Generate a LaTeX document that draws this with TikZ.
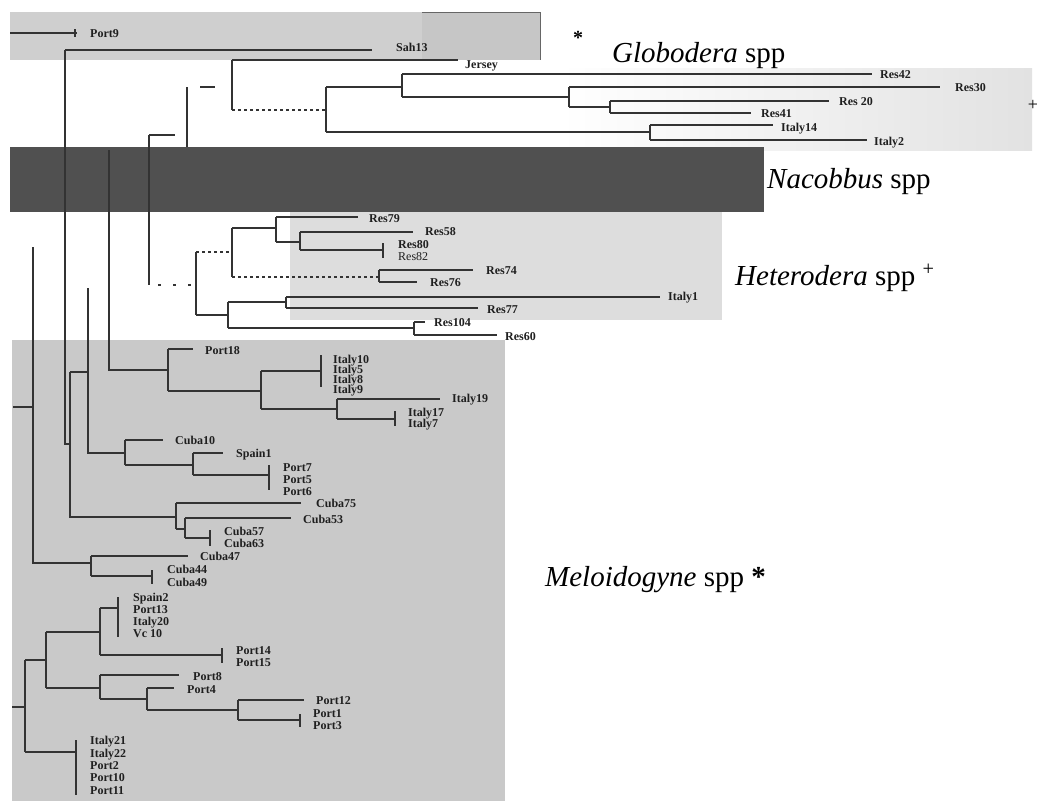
\documentclass[tikz,border=0pt]{standalone}
\usepackage{fontspec}
\setmainfont{Liberation Serif}
\definecolor{topbg}{HTML}{CFCFCF}
\definecolor{topbg2}{HTML}{C6C6C6}
\definecolor{globbg}{HTML}{E2E2E2}
\definecolor{nacbg}{HTML}{505050}
\definecolor{hetbg}{HTML}{DDDDDD}
\definecolor{melbg}{HTML}{C9C9C9}
\definecolor{treec}{HTML}{333333}
\tikzset{
  br/.style={draw=treec, line width=1.1pt},
  lab/.style={anchor=base west, inner sep=0pt, text=black!88,
    font=\bfseries\fontsize{12}{12}\selectfont},
  big/.style={anchor=base west, inner sep=0pt, text=black,
    font=\fontsize{29}{29}\selectfont},
}
\newcommand\lbl[4]{\node[lab] (#1) at (#2,#3+4) {#4};}
\begin{document}
\begin{tikzpicture}[x=1pt,y=-1pt]
\useasboundingbox (0,0) rectangle (1041,801);
\fill[white] (0,0) rectangle (1041,801);
% backgrounds
\fill[topbg] (10,12) rectangle (540,60);
\fill[topbg2] (422,12) rectangle (540,60);
\draw[gray!80!black, line width=0.7pt] (422,12) -- (540,12) -- (540,60);
\shade[left color=white, right color=globbg] (560,68) rectangle (1032,150);
\fill[nacbg] (10,147) rectangle (764,212);
\fill[hetbg] (290,212) rectangle (722,320);
\fill[melbg] (12,340) rectangle (505,801);
% ---- top / spine
\draw[br] (10,33) -- (77,33);
\draw[br] (75,29) -- (75,37);
\draw[br] (65,50) -- (372,50);
\draw[br] (65,50) -- (65,444) -- (70,444);
\draw[br] (70,372) -- (70,517) -- (176,517);
\draw[br] (70,372) -- (88,372);
\draw[br] (88,288) -- (88,453) -- (125,453);
\draw[br] (109,150) -- (109,370) -- (168,370);
\draw[br] (149,135) -- (149,285);
\draw[br] (149,135) -- (175,135);
\draw[br, dash pattern=on 3pt off 12pt] (158,285) -- (196,285);
\draw[br] (187,87) -- (187,147);
\draw[br] (200,87) -- (215,87);
\draw[br] (33,247) -- (33,563) -- (91,563);
\draw[br] (13,407) -- (33,407);
\draw[br] (25,660) -- (25,752);
\draw[br] (12,707) -- (25,707);
% ---- Globodera subtree
\draw[br] (232,60) -- (458,60);
\draw[br] (232,60) -- (232,110);
\draw[br, dashed] (232,110) -- (326,110);
\draw[br] (326,87) -- (326,132);
\draw[br] (326,87) -- (402,87);
\draw[br] (402,74) -- (402,97);
\draw[br] (402,74) -- (872,74);
\draw[br] (402,97) -- (569,97);
\draw[br] (569,87) -- (569,107);
\draw[br] (569,87) -- (940,87);
\draw[br] (569,107) -- (610,107);
\draw[br] (610,101) -- (610,113);
\draw[br] (610,101) -- (829,101);
\draw[br] (610,113) -- (751,113);
\draw[br] (326,132) -- (650,132);
\draw[br] (650,125) -- (650,140);
\draw[br] (650,125) -- (773,125);
\draw[br] (650,140) -- (867,140);
% ---- Heterodera subtree
\draw[br] (196,252) -- (196,315);
\draw[br, dashed] (196,252) -- (232,252);
\draw[br] (232,228) -- (232,277);
\draw[br] (232,228) -- (276,228);
\draw[br] (276,217) -- (276,242);
\draw[br] (276,217) -- (358,217);
\draw[br] (276,242) -- (300,242);
\draw[br] (300,232) -- (300,250);
\draw[br] (300,232) -- (413,232);
\draw[br] (300,250) -- (383,250);
\draw[br] (383,243) -- (383,258);
\draw[br, dashed] (232,277) -- (379,277);
\draw[br] (379,270) -- (379,282);
\draw[br] (379,270) -- (473,270);
\draw[br] (379,282) -- (417,282);
\draw[br] (196,315) -- (228,315);
\draw[br] (228,302) -- (228,328);
\draw[br] (228,302) -- (286,302);
\draw[br] (286,297) -- (286,308);
\draw[br] (286,297) -- (660,297);
\draw[br] (286,308) -- (478,308);
\draw[br] (228,328) -- (414,328);
\draw[br] (414,322) -- (414,335);
\draw[br] (414,322) -- (425,322);
\draw[br] (414,335) -- (497,335);
% ---- Meloidogyne subtree
\draw[br] (168,349) -- (168,391);
\draw[br] (168,349) -- (193,349);
\draw[br] (168,391) -- (261,391);
\draw[br] (261,371) -- (261,409);
\draw[br] (261,371) -- (321,371);
\draw[br] (321,355) -- (321,387);
\draw[br] (261,409) -- (337,409);
\draw[br] (337,399) -- (337,419);
\draw[br] (337,399) -- (440,399);
\draw[br] (337,419) -- (395,419);
\draw[br] (395,411) -- (395,426);
\draw[br] (125,440) -- (125,465);
\draw[br] (125,440) -- (163,440);
\draw[br] (125,465) -- (193,465);
\draw[br] (193,453) -- (193,475);
\draw[br] (193,453) -- (223,453);
\draw[br] (193,475) -- (269,475);
\draw[br] (269,465) -- (269,490);
\draw[br] (176,503) -- (176,529);
\draw[br] (176,503) -- (301,503);
\draw[br] (176,529) -- (185,529);
\draw[br] (185,518) -- (185,538);
\draw[br] (185,518) -- (291,518);
\draw[br] (185,538) -- (210,538);
\draw[br] (210,530) -- (210,546);
\draw[br] (91,556) -- (91,576);
\draw[br] (91,556) -- (188,556);
\draw[br] (91,576) -- (152,576);
\draw[br] (152,570) -- (152,584);
\draw[br] (25,660) -- (46,660);
\draw[br] (46,632) -- (46,688);
\draw[br] (46,632) -- (100,632);
\draw[br] (100,608) -- (100,655);
\draw[br] (100,608) -- (118,608);
\draw[br] (118,597) -- (118,637);
\draw[br] (100,655) -- (222,655);
\draw[br] (222,648) -- (222,663);
\draw[br] (46,688) -- (100,688);
\draw[br] (100,675) -- (100,699);
\draw[br] (100,675) -- (179,675);
\draw[br] (100,699) -- (147,699);
\draw[br] (147,688) -- (147,710);
\draw[br] (147,688) -- (174,688);
\draw[br] (147,710) -- (238,710);
\draw[br] (238,700) -- (238,720);
\draw[br] (238,700) -- (304,700);
\draw[br] (238,720) -- (300,720);
\draw[br] (300,714) -- (300,727);
\draw[br] (25,752) -- (76,752);
\draw[br] (76,740) -- (76,795);
% ---- labels
\lbl{port9}{90}{33}{Port9}
\lbl{sah13}{396}{47}{Sah13}
\lbl{jersey}{465}{64}{Jersey}
\lbl{res42}{880}{74}{Res42}
\lbl{res30}{955}{87}{Res30}
\lbl{res20}{839}{101}{Res 20}
\lbl{res41}{761}{113}{Res41}
\lbl{italy14}{781}{127}{Italy14}
\lbl{italy2}{874}{141}{Italy2}
\lbl{res79}{369}{218}{Res79}
\lbl{res58}{425}{231}{Res58}
\lbl{res80}{398}{244}{Res80}
\node[lab, font=\fontsize{12}{12}\selectfont] (res82) at (398,256+4) {Res82};
\lbl{res74}{486}{270}{Res74}
\lbl{res76}{430}{282}{Res76}
\lbl{italy1}{668}{296}{Italy1}
\lbl{res77}{487}{309}{Res77}
\lbl{res104}{434}{322}{Res104}
\lbl{res60}{505}{336}{Res60}
\lbl{port18}{205}{350}{Port18}
\lbl{italy10}{333}{359}{Italy10}
\lbl{italya}{333}{369}{Italy5}
\lbl{italyb}{333}{379}{Italy8}
\lbl{italyc}{333}{389}{Italy9}
\lbl{italy19}{452}{398}{Italy19}
\lbl{italy17}{408}{412}{Italy17}
\lbl{italy7}{408}{423}{Italy7}
\lbl{cuba10}{175}{440}{Cuba10}
\lbl{spain1}{236}{453}{Spain1}
\lbl{port7}{283}{467}{Port7}
\lbl{port5}{283}{479}{Port5}
\lbl{port6}{283}{491}{Port6}
\lbl{cuba75}{316}{503}{Cuba75}
\lbl{cuba53}{303}{519}{Cuba53}
\lbl{cuba57}{224}{531}{Cuba57}
\lbl{cuba63}{224}{543}{Cuba63}
\lbl{cuba47}{200}{556}{Cuba47}
\lbl{cuba44}{167}{569}{Cuba44}
\lbl{cuba49}{167}{582}{Cuba49}
\lbl{spain2}{133}{597}{Spain2}
\lbl{port13}{133}{609}{Port13}
\lbl{italy20}{133}{621}{Italy20}
\lbl{vc10}{133}{633}{Vc 10}
\lbl{port14}{236}{650}{Port14}
\lbl{port15}{236}{662}{Port15}
\lbl{port8}{193}{676}{Port8}
\lbl{port4}{187}{689}{Port4}
\lbl{port12}{316}{700}{Port12}
\lbl{port1}{313}{713}{Port1}
\lbl{port3}{313}{725}{Port3}
\lbl{italy21}{90}{740}{Italy21}
\lbl{italy22}{90}{753}{Italy22}
\lbl{port2}{90}{765}{Port2}
\lbl{port10}{90}{777}{Port10}
\lbl{port11}{90}{790}{Port11}
% ---- group names
\node[big, font=\bfseries\fontsize{20}{20}\selectfont, anchor=center] (ast1) at (578,38) {*};
\node[big] (glob) at (612,62) {\textit{Globodera} spp};
\node[big, font=\fontsize{18}{18}\selectfont, anchor=center] (plus1) at (1033,105) {+};
\node[big] (nac) at (767,188) {\textit{Nacobbus} spp};
\node[big] (het) at (735,285) {\textit{Heterodera} spp \textsuperscript{+}};
\node[big] (mel) at (545,586) {\textit{Meloidogyne} spp \textbf{*}};
\end{tikzpicture}
\end{document}
